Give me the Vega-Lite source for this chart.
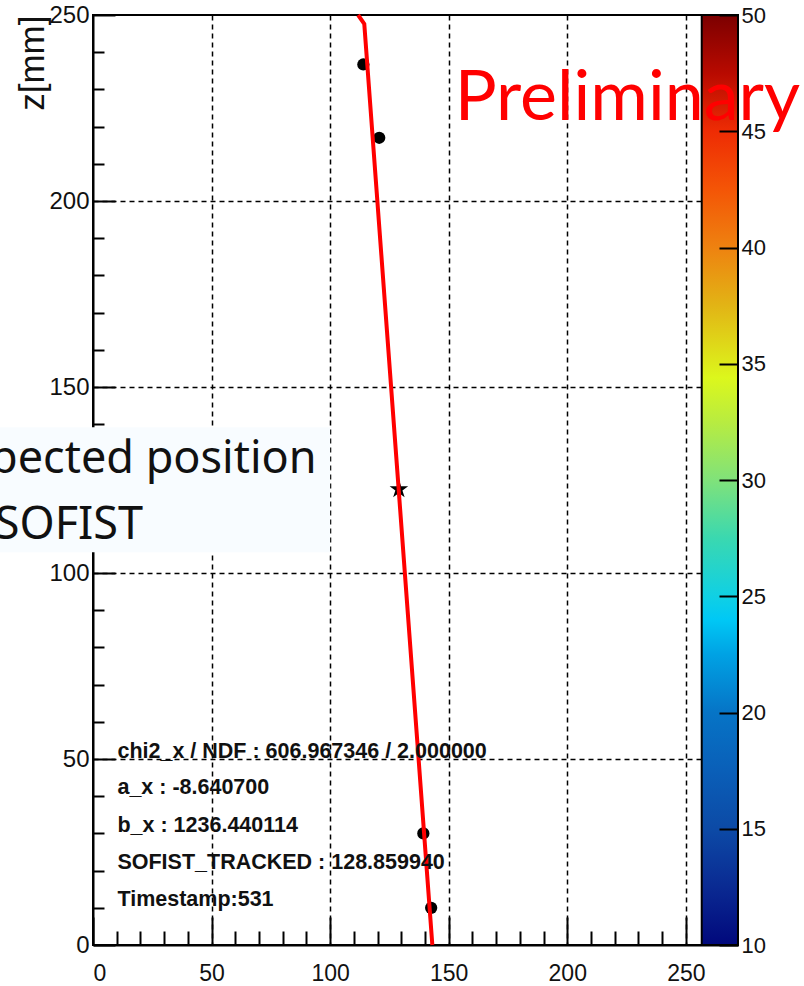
{
  "$schema": "https://vega.github.io/schema/vega-lite/v6.json",
  "width": 645,
  "height": 930,
  "autosize": {"type": "none"},
  "padding": {"left": 93, "top": 15, "right": 66, "bottom": 41},
  "background": "white",
  "config": {
    "view": {"stroke": "black", "strokeWidth": 2},
    "font": "Liberation Sans",
    "axis": {"labelFont": "Liberation Sans", "titleFont": "Liberation Sans", "labelColor": "#111", "domainColor": "black", "domainWidth": 2, "tickColor": "black", "tickWidth": 2}
  },
  "datasets": {
    "hits": [
      {"x": 114.0, "z": 236.7},
      {"x": 120.7, "z": 217.0},
      {"x": 139.3, "z": 30.0},
      {"x": 142.6, "z": 10.0}
    ],
    "sofist": [{"x": 129.0, "z": 122.5}],
    "fit": [
      {"x": 143.1, "z": 0},
      {"x": 114.4, "z": 247.6},
      {"x": 111.8, "z": 250}
    ],
    "stats": [
      {"x": 10.3, "z": 52.0, "text": "chi2_x / NDF : 606.967346 / 2.000000"},
      {"x": 10.3, "z": 42.2, "text": "a_x : -8.640700"},
      {"x": 10.3, "z": 32.0, "text": "b_x : 1236.440114"},
      {"x": 10.3, "z": 22.1, "text": "SOFIST_TRACKED : 128.859940"},
      {"x": 10.3, "z": 12.1, "text": "Timestamp:531"}
    ],
    "box": [{"x": -40, "x2": 100, "z": 105.6, "z2": 139.2}],
    "boxtext": [
      {"x": 94.3, "z": 127.0, "text": "pected position"},
      {"x": 21.1, "z": 109.1, "text": "SOFIST"}
    ],
    "prelim": [{"x": 152.5, "z": 221.8, "text": "Preliminary"}],
    "colorbar": [{"lo": 10, "hi": 50}]
  },
  "layer": [
    {
      "layer": [
        {
          "data": {"name": "hits"},
          "mark": {"type": "point", "shape": "circle", "filled": true, "size": 150, "color": "black", "opacity": 1},
          "encoding": {
            "x": {
              "field": "x", "type": "quantitative",
              "scale": {"domain": [0, 272], "nice": false, "zero": false},
              "axis": {
                "title": null,
                "values": [0, 10, 20, 30, 40, 50, 60, 70, 80, 90, 100, 110, 120, 130, 140, 150, 160, 170, 180, 190, 200, 210, 220, 230, 240, 250, 260, 270],
                "tickCount": 40,
                "labelExpr": "datum.value % 50 === 0 ? datum.label : ''",
                "labelOverlap": false,
                "labelFontSize": 23,
                "labelBaseline": "top",
                "labelPadding": 45,
                "tickSize": {"condition": {"test": "datum.value % 50 === 0", "value": -28}, "value": -14},
                "grid": true,
                "gridColor": "black",
                "gridWidth": 1.5,
                "gridDash": [5, 4],
                "gridOpacity": {"condition": {"test": "datum.value % 50 === 0 && datum.value > 0", "value": 1}, "value": 0}
              }
            },
            "y": {
              "field": "z", "type": "quantitative",
              "scale": {"domain": [0, 250], "nice": false, "zero": false},
              "axis": {
                "title": "z[mm]",
                "titleFontSize": 35,
                "titleFontWeight": "normal",
                "titleColor": "#111",
                "titleAngle": 270,
                "titleAlign": "right",
                "titleBaseline": "middle",
                "titleX": -61,
                "titleY": 0,
                "values": [0, 10, 20, 30, 40, 50, 60, 70, 80, 90, 100, 110, 120, 130, 140, 150, 160, 170, 180, 190, 200, 210, 220, 230, 240, 250],
                "tickCount": 40,
                "labelExpr": "datum.value % 50 === 0 ? datum.label : ''",
                "labelOverlap": false,
                "labelFlush": false,
                "labelFontSize": 24,
                "labelPadding": 26,
                "tickSize": {"condition": {"test": "datum.value % 50 === 0", "value": -22}, "value": -11},
                "grid": true,
                "gridColor": "black",
                "gridWidth": 1.5,
                "gridDash": [5, 4],
                "gridOpacity": {"condition": {"test": "datum.value % 50 === 0 && datum.value > 0 && datum.value < 250", "value": 1}, "value": 0}
              }
            }
          }
        },
        {
          "data": {"name": "sofist"},
          "mark": {"type": "point", "shape": "M0,-1L0.2245,-0.309L0.951,-0.309L0.363,0.118L0.588,0.809L0,0.382L-0.588,0.809L-0.363,0.118L-0.951,-0.309L-0.2245,-0.309Z", "filled": true, "size": 380, "color": "black", "opacity": 1},
          "encoding": {
            "x": {"field": "x", "type": "quantitative", "scale": {"domain": [0, 272], "nice": false, "zero": false}},
            "y": {"field": "z", "type": "quantitative", "scale": {"domain": [0, 250], "nice": false, "zero": false}}
          }
        },
        {
          "data": {"name": "fit"},
          "mark": {"type": "line", "color": "#ff0000", "strokeWidth": 4},
          "encoding": {
            "x": {"field": "x", "type": "quantitative", "scale": {"domain": [0, 272], "nice": false, "zero": false}},
            "y": {"field": "z", "type": "quantitative", "scale": {"domain": [0, 250], "nice": false, "zero": false}},
            "order": {"field": "z", "type": "quantitative"}
          }
        },
        {
          "data": {"name": "stats"},
          "mark": {"type": "text", "align": "left", "baseline": "middle", "fontSize": 21.5, "fontWeight": "bold", "font": "Liberation Sans", "color": "#111"},
          "encoding": {
            "x": {"field": "x", "type": "quantitative", "scale": {"domain": [0, 272], "nice": false, "zero": false}},
            "y": {"field": "z", "type": "quantitative", "scale": {"domain": [0, 250], "nice": false, "zero": false}},
            "text": {"field": "text", "type": "nominal"}
          }
        },
        {
          "data": {"name": "box"},
          "mark": {"type": "rect", "fill": "#f8fcff"},
          "encoding": {
            "x": {"field": "x", "type": "quantitative", "scale": {"domain": [0, 272], "nice": false, "zero": false}},
            "x2": {"field": "x2"},
            "y": {"field": "z", "type": "quantitative", "scale": {"domain": [0, 250], "nice": false, "zero": false}},
            "y2": {"field": "z2"}
          }
        },
        {
          "data": {"name": "boxtext"},
          "mark": {"type": "text", "align": "right", "baseline": "alphabetic", "fontSize": 45, "font": "Noto Sans", "color": "#111"},
          "encoding": {
            "x": {"field": "x", "type": "quantitative", "scale": {"domain": [0, 272], "nice": false, "zero": false}},
            "y": {"field": "z", "type": "quantitative", "scale": {"domain": [0, 250], "nice": false, "zero": false}},
            "text": {"field": "text", "type": "nominal"}
          }
        }
      ]
    },
    {
      "data": {"name": "colorbar"},
      "mark": {
        "type": "rect",
        "stroke": "black",
        "strokeWidth": 2,
        "fill": {
          "gradient": "linear", "x1": 0, "y1": 1, "x2": 0, "y2": 0,
          "stops": [
            {"offset": 0, "color": "#01087c"},
            {"offset": 0.0625, "color": "#0a2a92"},
            {"offset": 0.125, "color": "#0c4aa6"},
            {"offset": 0.1875, "color": "#0a5fb8"},
            {"offset": 0.25, "color": "#0674c6"},
            {"offset": 0.3125, "color": "#00a2e4"},
            {"offset": 0.35, "color": "#00c8f5"},
            {"offset": 0.375, "color": "#10d0e4"},
            {"offset": 0.4375, "color": "#3ad8b0"},
            {"offset": 0.5, "color": "#80e27a"},
            {"offset": 0.5625, "color": "#b8ec40"},
            {"offset": 0.61, "color": "#dcf71c"},
            {"offset": 0.6875, "color": "#e2b415"},
            {"offset": 0.75, "color": "#ee8210"},
            {"offset": 0.8125, "color": "#f45506"},
            {"offset": 0.875, "color": "#ee2c04"},
            {"offset": 0.9375, "color": "#b80a00"},
            {"offset": 1, "color": "#7c0000"}
          ]
        }
      },
      "encoding": {
        "x": {
          "datum": 256.7, "type": "quantitative",
          "scale": {"domain": [0, 272], "nice": false, "zero": false},
          "axis": {
            "title": null,
            "values": [0, 10, 20, 30, 40, 50, 60, 70, 80, 90, 100, 110, 120, 130, 140, 150, 160, 170, 180, 190, 200, 210, 220, 230, 240, 250, 260, 270],
            "tickCount": 40,
            "labelExpr": "datum.value % 50 === 0 ? datum.label : ''",
            "labelOverlap": false,
            "labelFontSize": 23,
            "labelBaseline": "top",
            "labelPadding": 45,
            "tickSize": {"condition": {"test": "datum.value % 50 === 0", "value": -28}, "value": -14},
            "grid": true,
            "gridColor": "black",
            "gridWidth": 1.5,
            "gridDash": [5, 4],
            "gridOpacity": {"condition": {"test": "datum.value % 50 === 0 && datum.value > 0", "value": 1}, "value": 0}
          }
        },
        "x2": {"datum": 272},
        "y": {
          "field": "lo", "type": "quantitative",
          "scale": {"domain": [10, 50], "nice": false, "zero": false},
          "axis": {
            "orient": "right",
            "title": null,
            "values": [10, 15, 20, 25, 30, 35, 40, 45, 50],
            "tickCount": 20,
            "domain": false,
            "grid": false,
            "zindex": 1,
            "tickSize": -19,
            "labelPadding": 22,
            "labelFontSize": 22,
            "labelFlush": false,
            "labelOverlap": false
          }
        },
        "y2": {"field": "hi"}
      }
    },
    {
      "data": {"name": "prelim"},
      "mark": {"type": "text", "align": "left", "baseline": "alphabetic", "fontSize": 70, "font": "Lato", "color": "#ff0000"},
      "encoding": {
        "x": {"field": "x", "type": "quantitative", "scale": {"domain": [0, 272], "nice": false, "zero": false}},
        "y": {"field": "z", "type": "quantitative", "scale": {"domain": [0, 250], "nice": false, "zero": false}, "axis": null},
        "text": {"field": "text", "type": "nominal"}
      }
    }
  ],
  "resolve": {"scale": {"y": "independent"}}
}
